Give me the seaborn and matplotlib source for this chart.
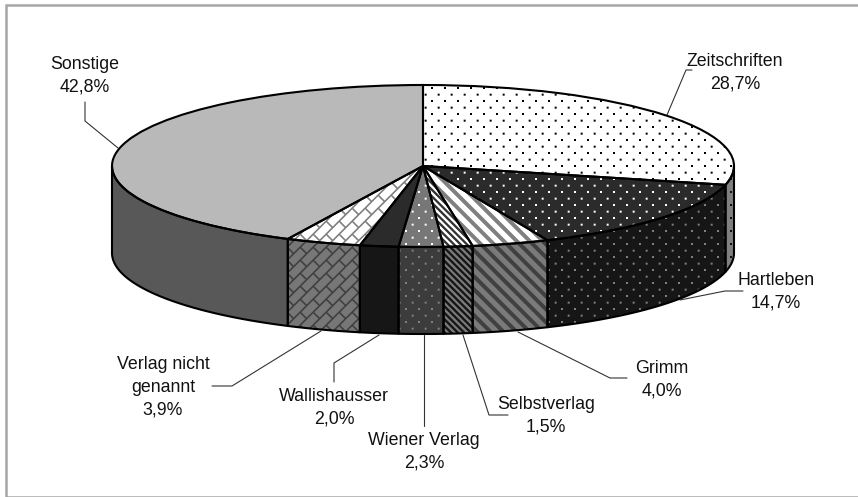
import numpy as np
import matplotlib
matplotlib.use('Agg')
import matplotlib.pyplot as plt
from matplotlib.patches import Rectangle
import seaborn as sns

# Daten
labels = ['Zeitschriften', 'Hartleben', 'Grimm', 'Selbstverlag', 'Wiener Verlag',
          'Wallishausser', 'Verlag nicht\ngenannt', 'Sonstige']
shares = [28.7, 14.7, 4.0, 1.5, 2.3, 2.0, 3.9, 42.8]
share_text = ['28,7%', '14,7%', '4,0%', '1,5%', '2,3%', '2,0%', '3,9%', '42,8%']

# Muster und Grauwerte: (muster, hintergrund, vordergrund)
top_styles = [('dots', '#ffffff', '#000000'), ('dots', '#2b2b2b', '#ffffff'),
              ('wide', '#ffffff', '#808080'), ('fine', '#ffffff', '#333333'),
              ('dots', '#777777', '#ffffff'), (None, '#2b2b2b', '#2b2b2b'),
              ('brick', '#ffffff', '#808080'), (None, '#b9b9b9', '#b9b9b9')]
side_styles = [('dots', '#808080', '#111111'), ('dots', '#161616', '#808080'),
               ('wide', '#7a7a7a', '#404040'), ('fine', '#7a7a7a', '#161616'),
               ('dots', '#3c3c3c', '#808080'), (None, '#161616', '#161616'),
               ('brick', '#777777', '#404040'), (None, '#585858', '#585858')]

# Beschriftung in Pixeln: textmitte und fuehrungslinie
label_pos = [(735, 73), (776, 292), (662, 380), (546, 416), (424, 452), (334, 408), (163, 387), (85, 76)]
leaders = [[(667, 115), (686, 70), (692, 70)],
           [(680, 300), (725, 291), (743, 291)],
           [(518, 332), (610, 378), (627, 378)],
           [(463, 335), (489, 415), (508, 415)],
           [(424, 335), (424, 426)],
           [(379, 335), (334, 363), (334, 382)],
           [(321, 331), (232, 386), (212, 386)],
           [(118, 148), (85, 121), (85, 102)]]

W, H = 858, 497
CX, CY, RX, RY, DEPTH = 423, 166, 311, 81, 87
PERIOD = 13


def px(x, y):
    return (x - CX) / RX, (CY - y) / RY


def make_mask(kind):
    # drei fach abgetastet, damit die muster weich werden
    s = 3
    y, x = np.mgrid[0:H * s, 0:W * s] / s
    if kind == 'dots':
        a = ((x - 8.5) % PERIOD < 2) & ((y - 2.5) % PERIOD < 2)
        b = ((x - 8.5 - PERIOD / 2) % PERIOD < 2) & ((y - 2.5 - PERIOD / 2) % PERIOD < 2)
        m = a | b
    elif kind == 'wide':
        m = (x - y) % PERIOD < 5.5
    elif kind == 'fine':
        m = (x - y) % (PERIOD / 2) < 3.2
    elif kind == 'brick':
        u, v = x + y, x - y
        k = np.floor(u / PERIOD)
        m = (u % PERIOD < 2.2) | ((v + k * PERIOD) % (2 * PERIOD) < 2.2)
    else:
        m = np.zeros_like(x, dtype=bool)
    return m.reshape(H, s, W, s).mean(axis=(1, 3))


masks = {k: make_mask(k) for k in ['dots', 'wide', 'fine', 'brick', None]}


def texture(style, clip_path, transform=None):
    kind, bg, fg = style
    bg_c = np.array(matplotlib.colors.to_rgb(bg))
    fg_c = np.array(matplotlib.colors.to_rgb(fg))
    m = masks[kind][..., None]
    img = ax.imshow(bg_c * (1 - m) + fg_c * m, extent=(xlim[0], xlim[1], ylim[0], ylim[1]),
                    origin='upper', aspect='auto', interpolation='nearest', zorder=2)
    if transform is None:
        img.set_clip_path(clip_path)
    else:
        img.set_clip_path(clip_path, transform)
    return img


sns.set_theme(style='white')
plt.rcParams['font.family'] = ['Liberation Sans', 'DejaVu Sans']

fig = plt.figure(figsize=(W / 100, H / 100), dpi=100, facecolor='white')
ax = fig.add_axes([0, 0, 1, 1])
xlim = (px(0, 0)[0], px(W, 0)[0])
ylim = (px(0, H)[1], px(0, 0)[1])

# Oberseite: normales tortendiagramm, durch die achsen gestaucht
wedges, _ = ax.pie(shares, startangle=90, counterclock=False, radius=1, center=(0, 0),
                   wedgeprops=dict(facecolor='none', edgecolor='black', linewidth=1.5, zorder=4))
for w, st in zip(wedges, top_styles):
    texture(st, w)

# Seitenwand: nur der vordere halbkreis (-180 bis 0 grad)
depth = DEPTH / RY
cum = np.cumsum([0] + shares) / sum(shares)
for i, st in enumerate(side_styles):
    t0 = min(90 - 360 * cum[i], 0)
    t1 = max(90 - 360 * cum[i + 1], -180)
    if t0 <= t1:
        continue
    t = np.radians(np.linspace(t0, t1, 60))
    poly = ax.fill_between(np.cos(t), np.sin(t), np.sin(t) - depth, facecolor='none',
                           edgecolor='black', linewidth=1.5, zorder=3)
    texture(st, poly.get_paths()[0], ax.transData).set_zorder(1.5)

# Fuehrungslinien und texte
for lab, val, pos, lead in zip(labels, share_text, label_pos, leaders):
    xs, ys = zip(*[px(*p) for p in lead])
    ax.plot(xs, ys, color='#333333', lw=0.8, zorder=1)
    ax.text(*px(*pos), lab + '\n' + val, ha='center', va='center', fontsize=12.8,
            color='#111111', linespacing=1.45, zorder=5)

ax.set_aspect('auto')
ax.set_xlim(xlim)
ax.set_ylim(ylim)
ax.axis('off')

# Rahmen (rechts und unten laeuft er aus dem bild)
fig.add_artist(Rectangle((5.5 / W, 1 - 496.5 / H), 860 / W, 491.5 / H, transform=fig.transFigure,
                         facecolor='none', edgecolor='#a6a6a6', linewidth=1.8))

fig.savefig('out.png', dpi=100)
